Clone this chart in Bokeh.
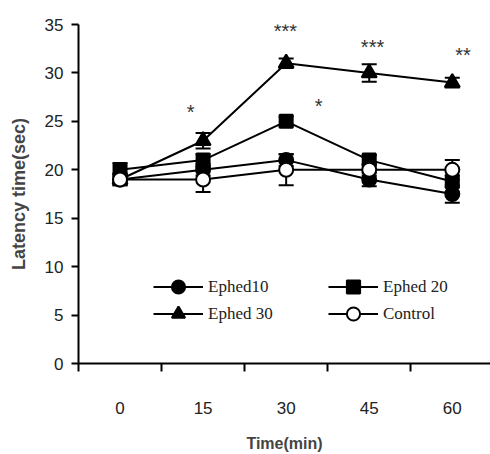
from bokeh.plotting import figure
from bokeh.models import (ColumnDataSource, Whisker, TeeHead, FixedTicker, Legend,
                          LegendItem, Range1d)
from bokeh.core.properties import value
from bokeh.embed import file_html
from bokeh.resources import INLINE

# ---- data ----
times = ["0", "15", "30", "45", "60"]
ephed10 = [19, 20, 21, 19, 17.5]
ephed10_err = [0.5, 0.6, 0.6, 0.7, 0.9]
ephed20 = [20, 21, 25, 21, 18.8]
ephed20_err = [0.7, 0.6, 0.5, 0.5, 0.6]
ephed30 = [19, 23, 31, 30, 29]
ephed30_err = [0.6, 0.8, 0.5, 0.9, 0.5]
control = [19, 19, 20, 20, 20]
control_err = [0.6, 1.3, 1.6, 0.6, 1.0]
y_ticks = [0, 5, 10, 15, 20, 25, 30, 35]

star_text = ["*", "***", "***", "**", "*"]
star_x = [0.85, 1.99, 3.04, 4.13, 2.39]
star_y = [26.0, 34.3, 32.7, 31.8, 26.6]

xs = list(range(len(times)))

p = figure(width=490, height=454, output_backend="svg", toolbar_location=None,
           x_range=Range1d(-0.5, 4.46), y_range=Range1d(0, 35),
           min_border_left=78, min_border_right=0, min_border_top=24,
           min_border_bottom=91)
p.outline_line_color = None
p.grid.visible = False
p.background_fill_color = "white"

tick_font = "Liberation Sans"

# x axis
xa = p.xaxis[0]
xa.ticker = FixedTicker(ticks=xs, minor_ticks=[x - 0.5 for x in xs])
xa.major_label_overrides = {x: t for x, t in zip(xs, times)}
xa.major_tick_line_color = None
xa.major_tick_out = 8
xa.major_tick_in = 0
xa.minor_tick_out = 8
xa.minor_tick_in = 0
xa.minor_tick_line_width = 2
xa.minor_tick_line_color = "black"
xa.axis_line_width = 2
xa.major_label_standoff = 30
xa.major_label_text_font = tick_font
xa.major_label_text_font_size = "17px"
xa.major_label_text_color = "#222222"
xa.axis_label = "Time(min)"
xa.axis_label_text_font = "Liberation Sans"
xa.axis_label_text_font_style = "bold"
xa.axis_label_text_font_size = "16px"
xa.axis_label_standoff = 18

# y axis
ya = p.yaxis[0]
ya.ticker = FixedTicker(ticks=y_ticks)
ya.major_tick_out = 7
ya.major_tick_in = 0
ya.major_tick_line_width = 2
ya.minor_tick_line_color = None
ya.axis_line_width = 2
ya.major_label_standoff = 8
ya.major_label_text_font = tick_font
ya.major_label_text_font_size = "17px"
ya.major_label_text_color = "#222222"
ya.axis_label = "Latency time(sec)"
ya.axis_label_text_font = "Liberation Sans"
ya.axis_label_text_font_style = "bold"
ya.axis_label_text_font_size = "18px"
ya.axis_label_standoff = 13

series = [
    ("Ephed10", ephed10, ephed10_err, "circle", "black"),
    ("Ephed 20", ephed20, ephed20_err, "square", "black"),
    ("Ephed 30", ephed30, ephed30_err, "triangle", "black"),
    ("Control", control, control_err, "circle", "white"),
]
sizes = {"circle": 14, "square": 13, "triangle": 15}

renderers = {}
for name, vals, errs, marker, fill in series:
    src = ColumnDataSource(dict(x=xs, y=vals,
                                upper=[v + e for v, e in zip(vals, errs)],
                                lower=[v - e for v, e in zip(vals, errs)]))
    w = Whisker(source=src, base="x", upper="upper", lower="lower",
                line_width=2, line_color="black",
                upper_head=TeeHead(size=15, line_width=2, line_color="black"),
                lower_head=TeeHead(size=15, line_width=2, line_color="black"))
    p.add_layout(w)
    lr = p.line("x", "y", source=src, line_width=2, line_color="black")
    renderers[name] = (lr, src, marker, fill)

for name, (lr, src, marker, fill) in renderers.items():
    sr = p.scatter("x", "y", source=src, marker=marker, size=sizes[marker],
                   fill_color=fill, line_color="black", line_width=2)
    renderers[name] = (lr, sr)

p.text(x=star_x, y=star_y, text=star_text, text_font=value("Liberation Sans"),
       text_font_size="20px", text_color="#333333", text_align="center",
       text_baseline="middle")

legend_pos = {"Ephed10": (75, 60), "Ephed 20": (250, 60),
              "Ephed 30": (75, 33), "Control": (250, 33)}
for name, (lr, sr) in renderers.items():
    lg = Legend(items=[LegendItem(label=name, renderers=[lr, sr])],
                location=legend_pos[name], glyph_width=50, glyph_height=33,
                label_standoff=5, padding=0, margin=0, spacing=0,
                border_line_color=None, background_fill_alpha=0,
                label_text_font="Liberation Serif", label_text_font_size="17px",
                label_text_color="#222222")
    p.add_layout(lg)

open("out.html", "w").write(file_html(p, INLINE))
